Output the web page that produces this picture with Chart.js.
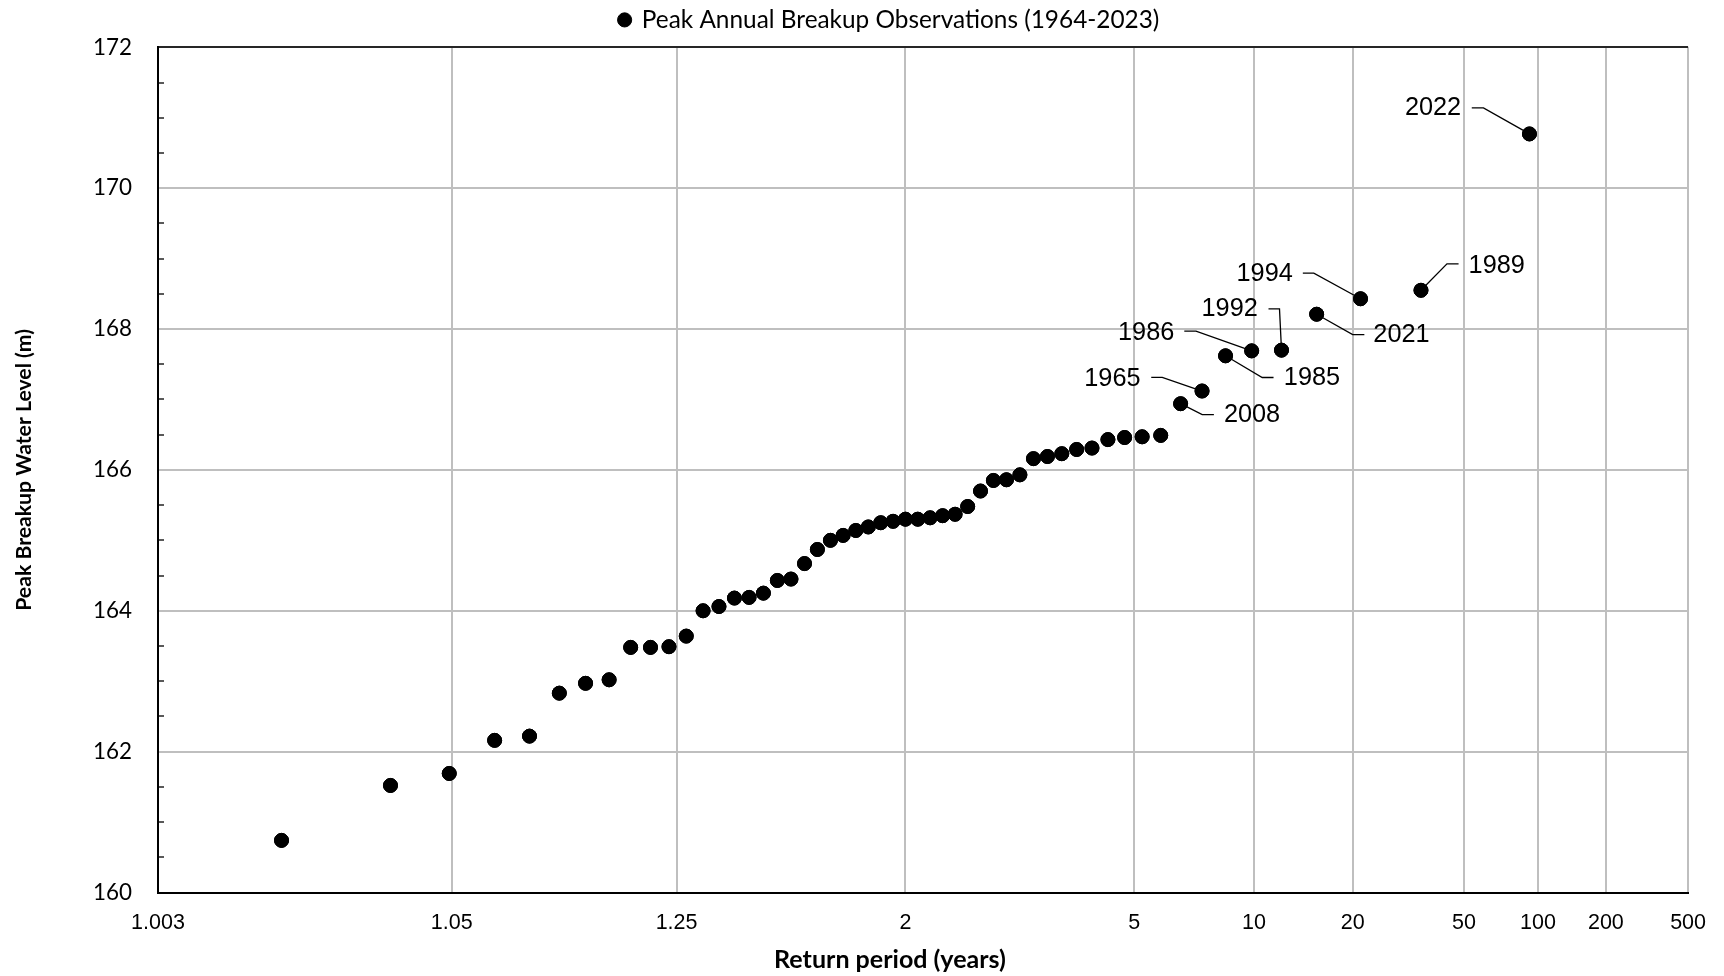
<!DOCTYPE html>
<html>
<head>
<meta charset="utf-8">
<script src="https://cdn.jsdelivr.net/npm/chart.js@4.4.1/dist/chart.umd.min.js"></script>
<style>
  html, body { margin: 0; padding: 0; background: #ffffff; }
  canvas { display: block; }
</style>
</head>
<body>
<canvas id="c" width="1724" height="976"></canvas>
<script>
// ---------------- DATA ----------------
const seriesName = 'Peak Annual Breakup Observations (1964-2023)';
const xAxisTitle = 'Return period (years)';
const yAxisTitle = 'Peak Breakup Water Level (m)';

// Return period (years) of each observation, ascending
const returnPeriods = [
  1.011, 1.030, 1.049, 1.070, 1.091, 1.113, 1.136, 1.160, 1.185, 1.211,
  1.238, 1.266, 1.296, 1.327, 1.360, 1.394, 1.430, 1.468, 1.508, 1.551,
  1.595, 1.643, 1.693, 1.747, 1.804, 1.865, 1.930, 2.000, 2.075, 2.156,
  2.244, 2.339, 2.442, 2.556, 2.680, 2.816, 2.968, 3.136, 3.325, 3.538,
  3.781, 4.059, 4.381, 4.759, 5.208, 5.750, 6.419, 7.263, 8.364, 9.857,
  12.00, 15.33, 21.23, 34.50, 92.00
];

// Peak breakup water level (m) of each observation
const waterLevels = [
  160.74, 161.52, 161.69, 162.16, 162.22, 162.83, 162.97, 163.02, 163.48, 163.48,
  163.49, 163.64, 164.00, 164.06, 164.18, 164.19, 164.25, 164.43, 164.45, 164.67,
  164.87, 165.00, 165.07, 165.14, 165.19, 165.25, 165.27, 165.30, 165.30, 165.32,
  165.35, 165.37, 165.48, 165.70, 165.85, 165.86, 165.93, 166.16, 166.19, 166.23,
  166.29, 166.31, 166.43, 166.46, 166.47, 166.49, 166.94, 167.12, 167.62, 167.69,
  167.70, 168.21, 168.43, 168.55, 170.77
];

// Years annotated on the chart and the observation they belong to
const labelledYears   = ['2008', '1965', '1985', '1986', '1992', '2021', '1994', '1989', '2022'];
const labelledIndices = [46, 47, 48, 49, 50, 51, 52, 53, 54];

// Axis ticks
const xTickValues = [1.003, 1.05, 1.25, 2, 5, 10, 20, 50, 100, 200, 500];
const xTickLabels = ['1.003', '1.05', '1.25', '2', '5', '10', '20', '50', '100', '200', '500'];
const yMin = 160, yMax = 172, yMajorStep = 2, yMinorStep = 0.5;

// ---------------- STYLE ----------------
const GRID = '#BFBFBF';
const CALIBRI_SUB = 'Lato';
const ARIAL_SUB = '"Liberation Sans", Arial, sans-serif';

const measureCtx = document.createElement('canvas').getContext('2d');
function fitSize(text, weight, family, targetWidth) {
  measureCtx.font = weight + ' 100px ' + family;
  return 100 * targetWidth / measureCtx.measureText(text).width;
}
const legendFontSize = fitSize(seriesName, 'normal', CALIBRI_SUB, 518);
const yTickFontSize  = fitSize('172', 'normal', CALIBRI_SUB, 39);
const xTitleSize     = fitSize(xAxisTitle, 'bold', CALIBRI_SUB, 232);
const yTitleSize     = fitSize(yAxisTitle, 'bold', CALIBRI_SUB, 282);

const AREA = { left: 158, right: 1689, top: 47.3, bottom: 892.5 };
const padLeft = 90;
const legendBox = 10;
const spacerHeight = 5.2;                 // gap between legend row and plot area
const legendHeight = legendFontSize + 10 + 10;

// label leader geometry relative to the dot (px): text anchor, alignment, elbow points
const labelStyles = {
  '2022': { tx: -68.3, ty: -26,  align: 'right', path: [[-57.7, -26], [-46, -26]] },
  '1994': { tx: -67.7, ty: -25,  align: 'right', path: [[-57.7, -25.6], [-46.7, -25.6]] },
  '1992': { tx: -23.7, ty: -41,  align: 'right', path: [[-13, -41.3], [-2, -41.3]] },
  '1986': { tx: -77.4, ty: -17.8, align: 'right', path: [[-67.4, -19.8], [-55.7, -19.8]] },
  '1965': { tx: -61.5, ty: -11.7, align: 'right', path: [[-50.8, -13.7], [-39.8, -13.7]] },
  '2008': { tx: 43.3,  ty: 11.7, align: 'left',  path: [[33.3, 11], [21.6, 11]] },
  '1985': { tx: 58.3,  ty: 22.7, align: 'left',  path: [[48, 21.7], [36.7, 21.7]] },
  '2021': { tx: 56.7,  ty: 20.6, align: 'left',  path: [[47.7, 20.3], [36, 20.3]] },
  '1989': { tx: 47.6,  ty: -24.7, align: 'left', path: [[37.6, -26.4], [26, -26.4]] }
};

// ---------------- NORMAL-PROBABILITY RETURN-PERIOD SCALE ----------------
function normInv(p) {
  const a = [-3.969683028665376e+01, 2.209460984245205e+02, -2.759285104469687e+02, 1.383577518672690e+02, -3.066479806614716e+01, 2.506628277459239e+00];
  const b = [-5.447609879822406e+01, 1.615858368580409e+02, -1.556989798598866e+02, 6.680131188771972e+01, -1.328068155288572e+01];
  const c = [-7.784894002430293e-03, -3.223964580411365e-01, -2.400758277161838e+00, -2.549732539343734e+00, 4.374664141464968e+00, 2.938163982698783e+00];
  const d = [7.784695709041462e-03, 3.224671290700398e-01, 2.445134137142996e+00, 3.754408661907416e+00];
  const plow = 0.02425, phigh = 1 - plow;
  let q, r;
  if (p < plow) {
    q = Math.sqrt(-2 * Math.log(p));
    return (((((c[0]*q+c[1])*q+c[2])*q+c[3])*q+c[4])*q+c[5]) / ((((d[0]*q+d[1])*q+d[2])*q+d[3])*q+1);
  }
  if (p <= phigh) {
    q = p - 0.5; r = q * q;
    return (((((a[0]*r+a[1])*r+a[2])*r+a[3])*r+a[4])*r+a[5])*q / (((((b[0]*r+b[1])*r+b[2])*r+b[3])*r+b[4])*r+1);
  }
  q = Math.sqrt(-2 * Math.log(1 - p));
  return -(((((c[0]*q+c[1])*q+c[2])*q+c[3])*q+c[4])*q+c[5]) / ((((d[0]*q+d[1])*q+d[2])*q+d[3])*q+1);
}
function normCdf(z) {
  const t = 1 / (1 + 0.2316419 * Math.abs(z));
  const dens = Math.exp(-z * z / 2) / Math.sqrt(2 * Math.PI);
  const p = 1 - dens * t * (0.319381530 + t * (-0.356563782 + t * (1.781477937 + t * (-1.821255978 + t * 1.330274429))));
  return z >= 0 ? p : 1 - p;
}
const variate = T => normInv(1 - 1 / T);

class ReturnPeriodScale extends Chart.Scale {
  determineDataLimits() {
    this.min = this.options.min;
    this.max = this.options.max;
  }
  buildTicks() {
    return xTickValues.map(v => ({ value: v }));
  }
  configure() {
    super.configure();
    this._zStart = variate(this.min);
    this._zEnd = variate(this.max);
  }
  getLabelForValue(value) { return String(value); }
  getPixelForValue(value) {
    const z = variate(value);
    return this.getPixelForDecimal((z - this._zStart) / (this._zEnd - this._zStart));
  }
  getValueForPixel(pixel) {
    const z = this._zStart + this.getDecimalForPixel(pixel) * (this._zEnd - this._zStart);
    return 1 / (1 - normCdf(z));
  }
}
ReturnPeriodScale.id = 'returnPeriod';
ReturnPeriodScale.defaults = {};
Chart.register(ReturnPeriodScale);

// ---------------- PLUGINS ----------------
const yearLabels = {
  id: 'yearLabels',
  afterDatasetsDraw(chart) {
    const ctx = chart.ctx;
    const pts = chart.getDatasetMeta(0).data;
    ctx.save();
    ctx.font = '25.3px ' + ARIAL_SUB;
    ctx.fillStyle = '#000';
    ctx.strokeStyle = '#000';
    ctx.lineWidth = 1.3;
    ctx.textBaseline = 'middle';
    labelledIndices.forEach((idx, k) => {
      const year = labelledYears[k];
      const s = labelStyles[year];
      const p = pts[idx];
      ctx.beginPath();
      ctx.moveTo(p.x + s.path[0][0], p.y + s.path[0][1]);
      ctx.lineTo(p.x + s.path[1][0], p.y + s.path[1][1]);
      ctx.lineTo(p.x, p.y);
      ctx.stroke();
      ctx.textAlign = s.align;
      ctx.fillText(year, p.x + s.tx, p.y + s.ty);
    });
    ctx.restore();
    // redraw dots on top of leader lines
    pts.forEach(el => el.draw(ctx, chart.chartArea));
  }
};

const axisTitles = {
  id: 'axisTitles',
  afterDraw(chart) {
    const ctx = chart.ctx;
    ctx.save();
    ctx.fillStyle = '#000';
    ctx.textAlign = 'center';
    ctx.textBaseline = 'middle';
    ctx.font = 'bold ' + xTitleSize + 'px ' + CALIBRI_SUB;
    ctx.fillText(xAxisTitle, 890, 960);
    ctx.translate(24, (chart.chartArea.top + chart.chartArea.bottom) / 2);
    ctx.rotate(-Math.PI / 2);
    ctx.font = 'bold ' + yTitleSize + 'px ' + CALIBRI_SUB;
    ctx.fillText(yAxisTitle, 0, 0);
    ctx.restore();
  }
};

// ---------------- CHART ----------------
const chart = new Chart(document.getElementById('c'), {
  type: 'scatter',
  data: {
    datasets: [{
      label: seriesName,
      data: returnPeriods.map((t, i) => ({ x: t, y: waterLevels[i] })),
      backgroundColor: '#000',
      borderColor: '#000',
      pointRadius: 7,
      pointBorderWidth: 1,
      pointHoverRadius: 7
    }]
  },
  options: {
    responsive: false,
    animation: false,
    devicePixelRatio: 1,
    layout: { padding: { left: padLeft, right: 1724 - AREA.right, top: AREA.top - legendHeight - spacerHeight, bottom: 0 } },
    plugins: {
      legend: {
        display: true,
        position: 'top',
        labels: {
          usePointStyle: true,
          pointStyle: 'circle',
          boxWidth: legendBox,
          boxHeight: legendBox,
          padding: 10,
          color: '#000',
          font: { family: CALIBRI_SUB, size: legendFontSize }
        }
      },
      title: {
        display: true,
        text: '',
        position: 'top',
        weight: 500,
        font: { size: 1 },
        padding: { top: spacerHeight - 1.2, bottom: 0 }
      },
      tooltip: { enabled: false }
    },
    scales: {
      x: {
        type: 'returnPeriod',
        position: 'bottom',
        min: xTickValues[0],
        max: xTickValues[xTickValues.length - 1],
        afterFit: s => { s.height = 976 - AREA.bottom; },
        grid: {
          color: c => c.index === 0 ? 'rgba(0,0,0,0)' : GRID,
          lineWidth: 2,
          drawTicks: false
        },
        border: { display: true, color: '#000', width: 2 },
        ticks: {
          autoSkip: false,
          maxRotation: 0,
          padding: 18,
          color: '#000',
          font: { family: ARIAL_SUB, size: 21.5 },
          callback: (v, i) => xTickLabels[i]
        }
      },
      y: {
        type: 'linear',
        position: 'left',
        min: yMin,
        max: yMax,
        afterFit: s => { s.width = AREA.left - padLeft; },
        grid: {
          color: c => {
            const v = c.tick.value;
            if (v === yMax) return '#262626';
            if (v === yMin) return 'rgba(0,0,0,0)';
            return v % yMajorStep === 0 ? GRID : 'rgba(0,0,0,0)';
          },
          lineWidth: 2,
          drawTicks: true,
          tickLength: -6,
          tickWidth: 2,
          tickColor: c => c.tick.value % yMajorStep === 0 ? 'rgba(0,0,0,0)' : '#595959'
        },
        border: { display: true, color: '#000', width: 2 },
        ticks: {
          stepSize: yMinorStep,
          autoSkip: false,
          padding: 32,
          color: '#000',
          font: { family: CALIBRI_SUB, size: yTickFontSize },
          callback: v => (v % yMajorStep === 0 ? String(v) : '')
        }
      }
    }
  },
  plugins: [yearLabels, axisTitles]
});
</script>
</body>
</html>
